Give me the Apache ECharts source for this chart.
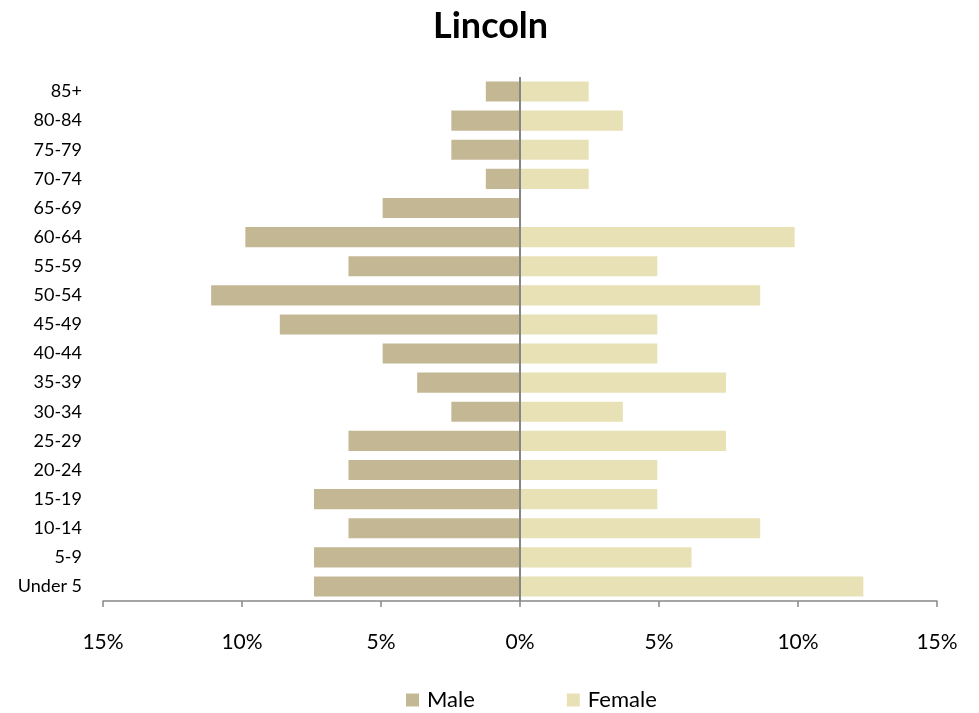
<!DOCTYPE html>
<html>
<head>
<meta charset="utf-8">
<script src="https://cdn.jsdelivr.net/npm/echarts@6/dist/echarts.min.js"></script>
<style>
html,body{margin:0;padding:0;background:#fff;}
#chart{width:979px;height:713px;}
</style>
</head>
<body>
<div id="chart"></div>
<script>
// Categories, bottom to top
const categories = ['Under 5','5-9','10-14','15-19','20-24','25-29','30-34','35-39','40-44','45-49','50-54','55-59','60-64','65-69','70-74','75-79','80-84','85+'];
// Percent of population
const maleValues   = [7.41, 7.41, 6.17, 7.41, 6.17, 6.17, 2.47, 3.70, 4.94, 8.64, 11.11, 6.17, 9.88, 4.94, 1.23, 2.47, 2.47, 1.23];
const femaleValues = [12.35, 6.17, 8.64, 4.94, 4.94, 7.41, 3.70, 7.41, 4.94, 4.94, 8.64, 4.94, 9.88, 0, 2.47, 2.47, 3.70, 2.47];
const xTicks = [-15, -10, -5, 0, 5, 10, 15];

const font = 'Lato, "Open Sans", sans-serif';
const chart = echarts.init(document.getElementById('chart'));
chart.setOption({
  animation: false,
  backgroundColor: '#ffffff',
  title: {
    text: 'Lincoln',
    left: 428,
    top: 3,
    textStyle: {fontFamily: font, fontSize: 36, fontWeight: 'bold', color: '#000'}
  },
  legend: {
    top: 684,
    left: 401,
    itemWidth: 13,
    itemHeight: 13,
    itemGap: 92,
    icon: 'rect',
    textStyle: {fontFamily: font, fontSize: 22, color: '#000', padding: [0, 0, 0, 3]},
    data: ['Male', 'Female']
  },
  grid: {left: 103, right: 42, top: 77, bottom: 112},
  xAxis: {
    type: 'value',
    min: xTicks[0],
    max: xTicks[xTicks.length - 1],
    interval: 5,
    axisLine: {show: true, onZero: false, lineStyle: {color: '#888888', width: 1.5}},
    axisTick: {show: true, length: 6, lineStyle: {color: '#888888', width: 1.5}},
    splitLine: {show: false},
    axisLabel: {
      margin: 31,
      fontFamily: font, fontSize: 21, color: '#000',
      formatter: v => Math.abs(v) + '%'
    }
  },
  yAxis: {
    type: 'category',
    data: categories,
    axisLine: {show: false, onZero: false},
    axisTick: {show: false},
    axisLabel: {margin: 21, fontFamily: font, fontSize: 18, color: '#000'}
  },
  series: [
    {
      name: 'Male',
      type: 'bar',
      data: maleValues.map(v => -v),
      itemStyle: {color: '#c4b894'},
      barCategoryGap: '31%',
      barGap: '-100%',
      markLine: {
        silent: true,
        symbol: 'none',
        label: {show: false},
        lineStyle: {color: '#868686', width: 2, type: 'solid'},
        data: [{xAxis: 0}]
      }
    },
    {
      name: 'Female',
      type: 'bar',
      data: femaleValues,
      itemStyle: {color: '#e8e1b6'},
      barCategoryGap: '31%',
      barGap: '-100%'
    }
  ]
});
</script>
</body>
</html>
